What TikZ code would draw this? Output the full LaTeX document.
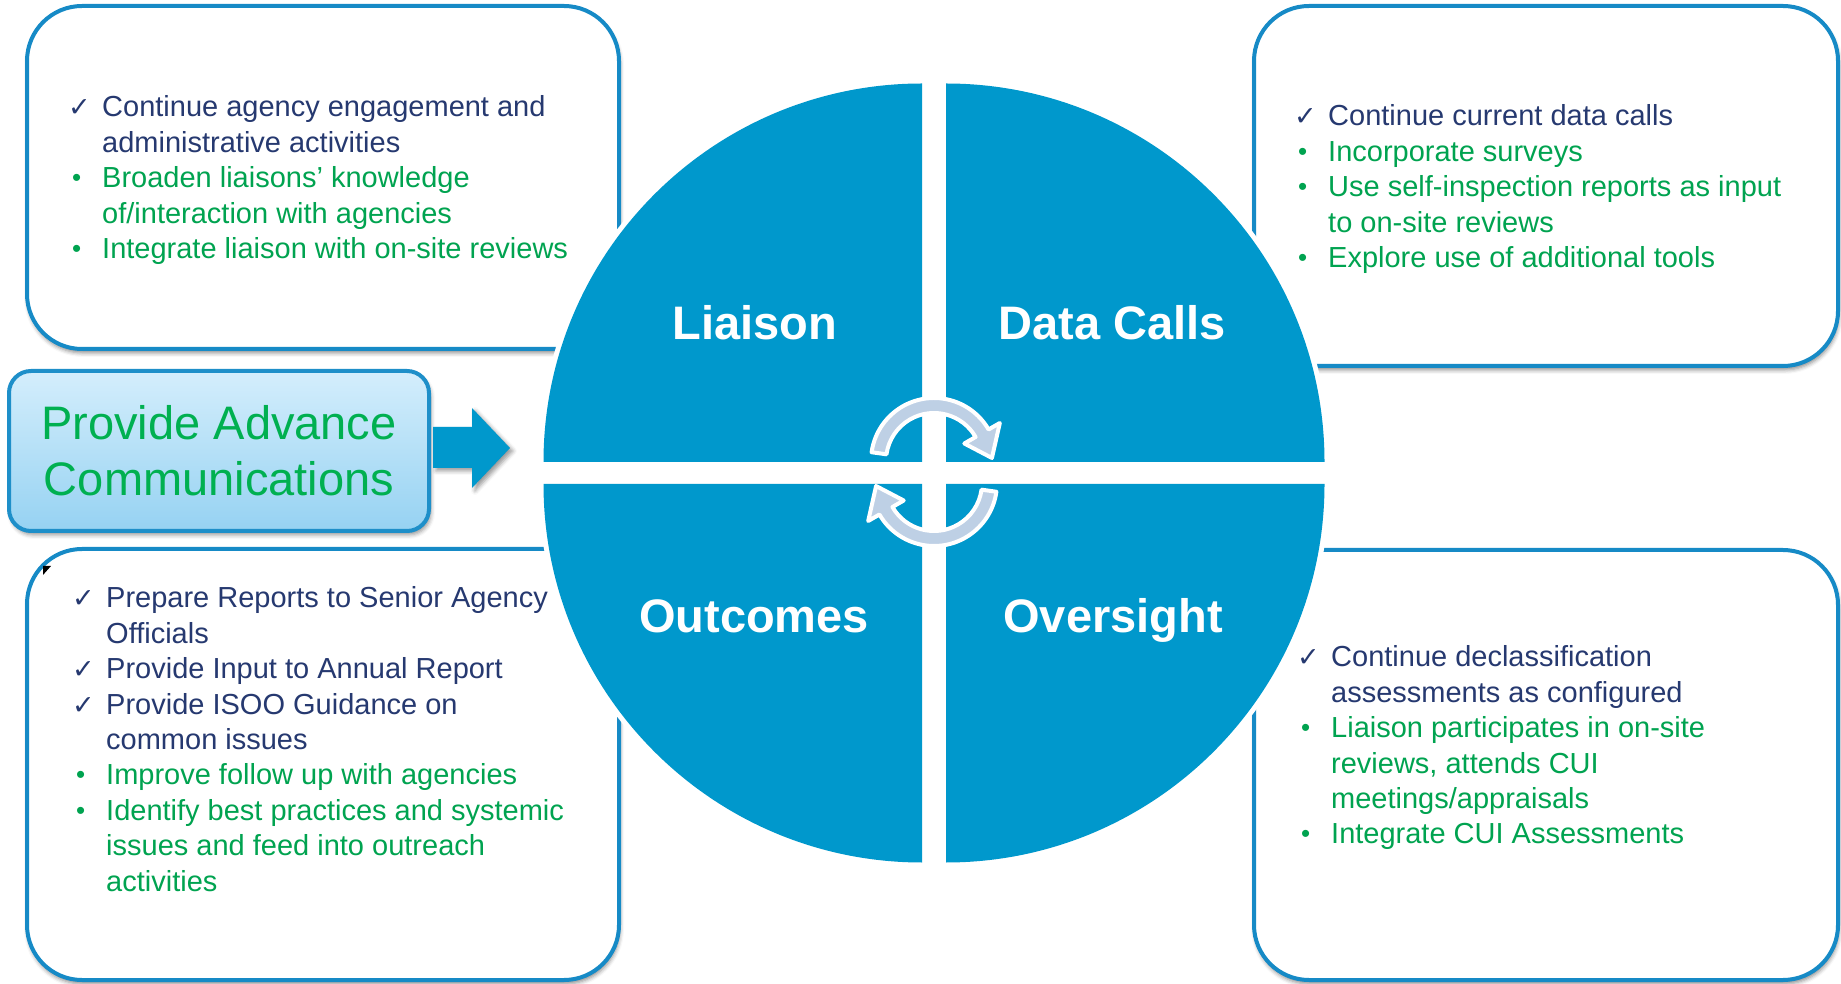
\documentclass[tikz,border=0pt]{standalone}
\usepackage{fontspec}
\setmainfont{Liberation Sans}
\newfontfamily\symfont{DejaVu Sans}
\usetikzlibrary{shadows.blur}

\definecolor{quadblue}{RGB}{0,152,204}
\definecolor{boxline}{RGB}{22,138,198}
\definecolor{txtnavy}{RGB}{38,57,112}
\definecolor{txtgreen}{RGB}{0,163,80}
\definecolor{advgreen}{RGB}{0,176,80}
\definecolor{advtop}{RGB}{212,238,252}
\definecolor{advbot}{RGB}{150,210,242}
\definecolor{advline}{RGB}{30,143,201}
\definecolor{cyclefill}{RGB}{190,208,229}

% list rows: check-marked (navy) and bulleted (green)
\newcommand{\chk}{{\symfont\fontsize{27}{27}\selectfont ✓}}
\newcommand{\smallbul}{\raisebox{1pt}{\fontsize{26}{26}\selectfont\textbullet}}
\newcommand{\citem}[1]{\textcolor{txtnavy}{\chk} & \textcolor{txtnavy}{#1}\\}
\newcommand{\bitem}[1]{\textcolor{txtgreen}{\hspace*{4pt}\smallbul} & \textcolor{txtgreen}{#1}\\}
\newenvironment{itemtab}{\fontsize{29}{35.4}\selectfont\begin{tabular}[t]{@{}p{34pt}@{}p{520pt}@{}}}{\end{tabular}}

\tikzset{
  infobox/.style={draw=boxline, line width=4pt, rounded corners=55pt, fill=white,
    inner sep=0pt,
    blur shadow={shadow xshift=1pt, shadow yshift=-4pt, shadow blur radius=4pt, shadow opacity=45}},
  itemlist/.style={anchor=base west, inner sep=0pt},
  qlabel/.style={anchor=base, inner sep=0pt, text=white, font=\bfseries\fontsize{47}{47}\selectfont},
  halo/.style={draw=white, line width=10pt},
  cyclearrow/.style={fill=cyclefill, draw=white, line width=4pt, line join=round},
  advbox/.style={draw=advline, line width=4pt, rounded corners=22pt,
    top color=advtop, bottom color=advbot, minimum width=420pt, minimum height=160pt,
    align=center, text=advgreen, font=\fontsize{47}{56}\selectfont,
    blur shadow={shadow xshift=2pt, shadow yshift=-4pt, shadow blur radius=4pt, shadow opacity=40}},
  bluearrow/.style={fill=quadblue,
    blur shadow={shadow xshift=3pt, shadow yshift=-3pt, shadow blur radius=4pt, shadow opacity=40}},
  cyclearc/.pic={
    \path[cyclearrow, shift={(0,11)}] (172:63) arc[start angle=172, end angle=30, radius=63]
      -- (30:76) -- (3:58) -- (30:35) -- (30:48)
      arc[start angle=30, end angle=172, radius=48] -- cycle;
  }
}

\begin{document}
\begin{tikzpicture}[x=1pt, y=1pt]
\useasboundingbox (0,0) rectangle (1841,983);

% the four text boxes
\node[infobox, minimum width=592pt, minimum height=343pt] (tlbox) at (323,805.5) {};
\node[infobox, minimum width=584pt, minimum height=360pt] (trbox) at (1546,797) {};
\node[infobox, minimum width=592pt, minimum height=431pt] (blbox) at (323,218.5) {};
\node[infobox, minimum width=584pt, minimum height=430pt] (brbox) at (1546,218) {};

\node[itemlist] (tltext) at (68,866) {\begin{itemtab}
\citem{Continue agency engagement and\newline administrative activities}
\bitem{Broaden liaisons’ knowledge\newline of/interaction with agencies}
\bitem{Integrate liaison with on-site reviews}
\end{itemtab}};

\node[itemlist] (trtext) at (1294,857) {\begin{itemtab}
\citem{Continue current data calls}
\bitem{Incorporate surveys}
\bitem{Use self-inspection reports as input\newline to on-site reviews}
\bitem{Explore use of additional tools}
\end{itemtab}};

\node[itemlist] (bltext) at (72,375) {\begin{itemtab}
\citem{Prepare Reports to Senior Agency\newline Officials}
\citem{Provide Input to Annual Report}
\citem{Provide ISOO Guidance on\newline common issues}
\bitem{Improve follow up with agencies}
\bitem{Identify best practices and systemic\newline issues and feed into outreach\newline activities}
\end{itemtab}};

\node[itemlist] (brtext) at (1297,316) {\begin{itemtab}
\citem{Continue declassification\newline assessments as configured}
\bitem{Liaison participates in on-site\newline reviews, attends CUI\newline meetings/appraisals}
\bitem{Integrate CUI Assessments}
\end{itemtab}};

% small stray mark at the corner of the lower left box
\fill[black] (43,417) -- (51,417) -- (43,408) -- cycle;

% the four quarter discs, each with a white halo
\foreach \cx/\cy/\sa/\ea in {922/521/180/90, 946/521/90/0, 922/499/270/180, 946/499/0/-90}{
  \draw[halo] (\cx,\cy) -- ++(\sa:378.5) arc[start angle=\sa, end angle=\ea, radius=378.5] -- cycle;
  \fill[quadblue] (\cx,\cy) -- ++(\sa:378.5) arc[start angle=\sa, end angle=\ea, radius=378.5] -- cycle;
}

\node[qlabel] (liaison) at (755,643) {Liaison};
\node[qlabel] (datacalls) at (1112,643) {Data Calls};
\node[qlabel] (outcomes) at (754,350) {Outcomes};
\node[qlabel] (oversight) at (1113,350) {Oversight};

% cycle arrows at the centre
\pic (cyctop) at (934,511) {cyclearc};
\pic[rotate=180] (cycbot) at (934,511) {cyclearc};

% advance communications box and its arrow
\node[advbox] (adv) at (219,532) {Provide Advance\\Communications};
\path[bluearrow] (433,556) -- (472,556) -- (472,575) -- (510,535) -- (472,495) -- (472,515) -- (433,515) -- cycle;

\end{tikzpicture}
\end{document}
